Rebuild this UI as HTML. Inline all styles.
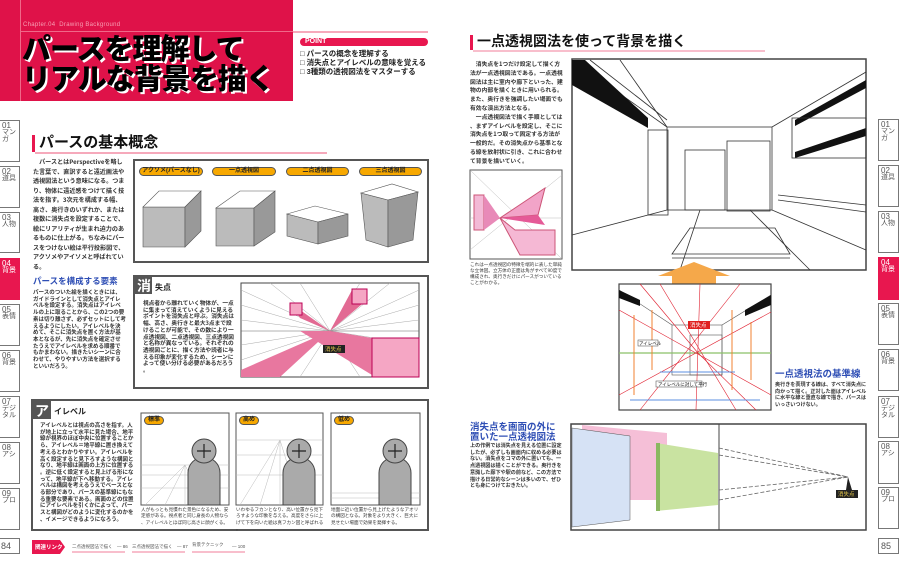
<!DOCTYPE html>
<html><head><meta charset="utf-8"><style>
*{margin:0;padding:0;box-sizing:border-box}
body{width:900px;height:575px;overflow:hidden;background:#fff;position:relative;font-family:"Liberation Sans","Noto Sans CJK JP",sans-serif;color:#222}
.a{position:absolute}
.p{position:absolute;font-size:6.1px;line-height:9.5px;font-weight:bold;color:#333;font-family:"Noto Sans CJK JP",sans-serif;word-break:break-all;line-break:anywhere}
.h{position:absolute;font-weight:bold;color:#111}
.tab{position:absolute;width:21px;border:1px solid #777;background:#fff;font-size:7px;color:#555;padding:1px 2px;line-height:7px}
.tab b{display:block;font-size:8px;font-weight:normal}
.tab.r{background:#e8174f;color:#fff;border-color:#e8174f}
.pill{position:absolute;height:9px;border:1px solid #555;border-radius:5px;background:#f7a800;font-size:6px;line-height:7px;text-align:center;font-weight:bold;color:#222}
.blue{position:absolute;color:#2f4fb5;font-weight:bold;font-family:"Noto Sans CJK JP",sans-serif}
</style></head><body>

<!-- header -->
<div class="a" style="left:0;top:0;width:293px;height:101px;background:#df1249"></div>
<div class="a" style="left:20px;top:0;width:1px;height:101px;background:#f06888"></div>
<div class="a" style="left:20px;top:31px;width:273px;height:1px;background:#f06888"></div>
<div class="a" style="left:23px;top:22px;font-size:6px;color:#f7a0b4;letter-spacing:.3px">Chapter.04&nbsp; Drawing Background</div>
<div class="h" style="left:22px;top:35px;font-size:29px;line-height:30px;letter-spacing:-1px;font-weight:900;color:#000;text-shadow:2px 2px 0 #fff">パースを理解して<br>リアルな背景を描く</div>
<div class="a" style="left:293px;top:31px;width:135px;height:2px;background:#f6a9bb"></div>
<div class="a" style="left:300px;top:38px;width:128px;height:8px;background:#e8174f;border-radius:4px;color:#fff;font-size:7px;line-height:8px;padding-left:5px;font-weight:bold">POINT</div>
<div class="a" style="left:300px;top:49px;font-size:7.5px;line-height:9px;color:#222;font-weight:bold">□ パースの概念を理解する<br>□ 消失点とアイレベルの意味を覚える<br>□ 3種類の透視図法をマスターする</div>

<!-- left tabs -->
<div class="tab" style="left:-1px;top:120px;height:42px"><b>01</b>マンガ</div>
<div class="tab" style="left:-1px;top:166px;height:42px"><b>02</b>道具</div>
<div class="tab" style="left:-1px;top:212px;height:41px"><b>03</b>人物</div>
<div class="tab r" style="left:-1px;top:258px;height:42px"><b>04</b>背景</div>
<div class="tab" style="left:-1px;top:304px;height:42px"><b>05</b>表情</div>
<div class="tab" style="left:-1px;top:350px;height:42px"><b>06</b>背景</div>
<div class="tab" style="left:-1px;top:396px;height:42px"><b>07</b>デジタル</div>
<div class="tab" style="left:-1px;top:442px;height:42px"><b>08</b>アシ</div>
<div class="tab" style="left:-1px;top:488px;height:42px"><b>09</b>プロ</div>
<div class="tab" style="left:-1px;top:538px;height:16px;font-size:9px;line-height:12px;border-left:none">84</div>

<!-- right tabs -->
<div class="tab" style="left:878px;top:119px;height:42px"><b>01</b>マンガ</div>
<div class="tab" style="left:878px;top:165px;height:42px"><b>02</b>道具</div>
<div class="tab" style="left:878px;top:211px;height:42px"><b>03</b>人物</div>
<div class="tab r" style="left:878px;top:257px;height:43px"><b>04</b>背景</div>
<div class="tab" style="left:878px;top:303px;height:42px"><b>05</b>表情</div>
<div class="tab" style="left:878px;top:349px;height:42px"><b>06</b>背景</div>
<div class="tab" style="left:878px;top:396px;height:42px"><b>07</b>デジタル</div>
<div class="tab" style="left:878px;top:441px;height:43px"><b>08</b>アシ</div>
<div class="tab" style="left:878px;top:487px;height:42px"><b>09</b>プロ</div>
<div class="tab" style="left:878px;top:538px;height:16px;font-size:9px;line-height:12px">85</div>

<!-- left section heading -->
<div class="a" style="left:32px;top:135px;width:3px;height:17px;background:#e8174f"></div>
<div class="h" style="left:39px;top:134px;font-size:15px;line-height:18px">パースの基本概念</div>
<div class="a" style="left:35px;top:152px;width:292px;height:2px;background:#f6a9bb"></div>
<div class="p" style="left:33px;top:157px;width:93px">　パースとはPerspectiveを略した言葉で、直訳すると遠近画法や透視図法という意味になる。つまり、物体に遠近感をつけて描く技法を指す。3次元を構成する幅、高さ、奥行きのいずれか、または複数に消失点を設定することで、絵にリアリティが生まれ迫力のあるものに仕上がる。ちなみにパースをつけない絵は平行投影図で、アクソメやアイソメと呼ばれている。</div>

<svg class="a" style="left:0;top:0" width="900" height="575">
<!-- box1 -->
<rect x="134" y="160" width="294" height="102" fill="#fff" stroke="#555" stroke-width="2"/>
<g stroke="#555" stroke-width=".6">
<polygon points="143,207 185,207 185,247 143,247" fill="#bbb"/><polygon points="143,207 159,191 201,191 185,207" fill="#fff"/><polygon points="185,207 201,191 201,231 185,247" fill="#999"/>
<polygon points="216,208 254,208 254,246 216,246" fill="#bbb"/><polygon points="216,208 240,191 275,191 254,208" fill="#fff"/><polygon points="254,208 275,191 275,232 254,246" fill="#999"/>
<polygon points="287,214 318,222 318,244 287,236" fill="#bbb"/><polygon points="287,214 315,206 348,214 318,222" fill="#fff"/><polygon points="318,222 348,214 348,236 318,244" fill="#999"/>
<polygon points="361,193 388,200 388,247 366,240" fill="#bbb"/><polygon points="361,193 392,184 418,192 388,200" fill="#fff"/><polygon points="388,200 418,192 413,240 388,247" fill="#999"/>
</g>
<!-- vanishing box -->
<rect x="134" y="276" width="294" height="112" fill="#fff" stroke="#555" stroke-width="2"/>
<rect x="135" y="277" width="17" height="17" fill="#555"/>
<text x="137" y="291" font-size="14" fill="#fff" font-weight="bold" font-family="Noto Sans CJK JP">消</text>
<text x="155" y="290" font-size="8" font-weight="bold" fill="#222" font-family="Liberation Sans,Noto Sans CJK JP">失点</text>
<rect x="241" y="283" width="178" height="94" fill="#fff" stroke="#444"/>
<g stroke="#aaa" stroke-width=".5">
<line x1="330" y1="331" x2="241" y2="290"/><line x1="330" y1="331" x2="241" y2="305"/><line x1="330" y1="331" x2="241" y2="320"/><line x1="330" y1="331" x2="241" y2="345"/><line x1="330" y1="331" x2="241" y2="360"/>
<line x1="330" y1="331" x2="419" y2="290"/><line x1="330" y1="331" x2="419" y2="305"/><line x1="330" y1="331" x2="419" y2="320"/><line x1="330" y1="331" x2="419" y2="345"/><line x1="330" y1="331" x2="419" y2="360"/>
<line x1="330" y1="331" x2="270" y2="283"/><line x1="330" y1="331" x2="300" y2="283"/><line x1="330" y1="331" x2="360" y2="283"/><line x1="330" y1="331" x2="390" y2="283"/>
<line x1="330" y1="331" x2="270" y2="377"/><line x1="330" y1="331" x2="300" y2="377"/><line x1="330" y1="331" x2="360" y2="377"/><line x1="330" y1="331" x2="390" y2="377"/>
<line x1="241" y1="331" x2="419" y2="331" stroke="#666"/>
</g>
<polygon points="290,303 300,318 330,331 300,310" fill="#e26a93"/>
<rect x="290" y="303" width="12" height="12" fill="#f5a6c4" stroke="#b05"/>
<polygon points="352,290 367,300 330,331" fill="#e26a93"/><rect x="352" y="289" width="15" height="15" fill="#f5a6c4" stroke="#b05"/>
<polygon points="330,331 372,338 372,375 300,331" fill="#e8779f"/><rect x="372" y="338" width="47" height="39" fill="#f5a6c4" stroke="#b05"/>
<polygon points="330,331 241,370 241,377 280,377" fill="#e8779f"/>
<rect x="323" y="345" width="22" height="8" fill="#222"/><text x="325" y="351" font-size="5.5" fill="#e6c84a">消失点</text>
<!-- eyelevel box -->
<rect x="32" y="400" width="396" height="130" fill="#fff" stroke="#555" stroke-width="2"/>
<rect x="33" y="401" width="18" height="18" fill="#555"/>
<text x="35" y="416" font-size="14" fill="#fff" font-weight="bold" font-family="Noto Sans CJK JP">ア</text>
<text x="54" y="414" font-size="8" font-weight="bold" fill="#222" font-family="Liberation Sans,Noto Sans CJK JP">イレベル</text>
<!-- panels -->
<g stroke="#555" fill="#fff">
<rect x="141" y="413" width="88" height="92"/><rect x="236" y="413" width="87" height="92"/><rect x="331" y="413" width="89" height="92"/>
</g>
<g stroke="#bbb" stroke-width=".5">
<line x1="141" y1="465" x2="229" y2="465"/><line x1="141" y1="475" x2="229" y2="475"/><line x1="141" y1="488" x2="229" y2="488"/>
<line x1="185" y1="465" x2="145" y2="505"/><line x1="185" y1="465" x2="165" y2="505"/><line x1="185" y1="465" x2="185" y2="505"/><line x1="185" y1="465" x2="205" y2="505"/>
<line x1="236" y1="440" x2="323" y2="440"/><line x1="236" y1="455" x2="323" y2="455"/><line x1="236" y1="475" x2="323" y2="475"/>
<line x1="280" y1="440" x2="240" y2="505"/><line x1="280" y1="440" x2="260" y2="505"/><line x1="280" y1="440" x2="280" y2="505"/><line x1="280" y1="440" x2="300" y2="505"/>
<line x1="331" y1="493" x2="420" y2="493"/><line x1="331" y1="498" x2="420" y2="498"/>
</g>
<g fill="#aaa" stroke="#444" stroke-width="1">
<path d="M188,505 V473 a16,16 0 0 1 32,0 V505 Z"/><circle cx="204" cy="451" r="12"/>
<path d="M283,505 V473 a16,16 0 0 1 32,0 V505 Z"/><circle cx="299" cy="451" r="12"/>
<path d="M379,505 V473 a16,16 0 0 1 32,0 V505 Z"/><circle cx="395" cy="451" r="12"/>
</g>
<g stroke="#222" stroke-width="1.2"><path d="M197,451h14M204,444v14M292,451h14M299,444v14M388,451h14M395,444v14"/></g>
<!-- footer -->
<polygon points="32,540 60,540 65,547 60,554 32,554" fill="#e8174f"/>
<text x="35" y="549" font-size="5.5" fill="#fff" font-weight="bold">関連リンク</text>
<g fill="#555" font-size="4.5"><text x="72" y="548">二点透視図法で描く　— 86</text><text x="132" y="548">三点透視図法で描く　— 87</text><text x="192" y="546">背景テクニック</text><text x="232" y="548">— 100</text></g>
<g stroke="#f6a9bb" stroke-width="1.5"><line x1="72" y1="552" x2="125" y2="552"/><line x1="132" y1="552" x2="185" y2="552"/><line x1="192" y1="552" x2="245" y2="552"/></g>

<!-- right heading -->
<rect x="470" y="35" width="3" height="15" fill="#e8174f"/>
<line x1="473" y1="51" x2="765" y2="51" stroke="#f6a9bb" stroke-width="1.5"/>
<!-- small diagram -->
<rect x="470" y="170" width="92" height="89" fill="#fff" stroke="#555"/>
<g stroke="#bbb" stroke-width=".5"><line x1="470" y1="170" x2="562" y2="259"/><line x1="562" y1="175" x2="470" y2="250"/><line x1="470" y1="218" x2="562" y2="218"/></g>
<polygon points="474,195 484,195 484,230 474,230" fill="#f3b9d6" stroke="#c57"/><polygon points="484,195 500,218 484,230" fill="#e88ab8"/>
<polygon points="500,218 545,188 538,215" fill="#f2a4c8" stroke="#c57"/><polygon points="500,218 538,215 545,225" fill="#e55a97"/>
<polygon points="500,218 515,230 555,230 555,255 520,255" fill="#f5b8d4" stroke="#c57"/>
<!-- room -->
<rect x="572" y="59" width="294" height="211" fill="#fff" stroke="#444" stroke-width="1.5"/>
<g stroke="#333" fill="none" stroke-width=".8">
<rect x="667" y="127" width="105" height="83"/>
<line x1="572" y1="60" x2="667" y2="127"/><line x1="866" y1="72" x2="772" y2="127"/>
<line x1="572" y1="235" x2="667" y2="210"/><line x1="866" y1="250" x2="772" y2="210"/>
<line x1="590" y1="60" x2="667" y2="120"/><line x1="620" y1="60" x2="667" y2="127"/>
<rect x="685" y="150" width="40" height="60"/><rect x="727" y="141" width="43" height="70"/>
<rect x="648" y="130" width="20" height="85"/>
<line x1="778" y1="195" x2="866" y2="205"/><line x1="778" y1="200" x2="866" y2="212"/>
<polygon points="690,228 775,228 790,254 672,254"/><line x1="672" y1="258" x2="790" y2="258"/>
<line x1="700" y1="210" x2="680" y2="270"/><line x1="750" y1="210" x2="810" y2="270"/>
</g>
<polygon points="572,60 585,60 648,118 648,128 572,85" fill="#111"/>
<polygon points="795,120 866,80 866,88 795,126" fill="#111"/><polygon points="795,152 866,128 866,136 795,158" fill="#111"/>
<rect x="792" y="118" width="74" height="40" fill="none" stroke="#333" stroke-width=".8"/>
<!-- arrow -->
<polygon points="658,276 694,262 730,276 716,276 716,284 672,284 672,276" fill="#f5a84a"/>
<!-- middle image -->
<rect x="619" y="284" width="152" height="126" fill="#fff" stroke="#444" stroke-width="1.2"/>
<g stroke="#555" stroke-width=".6" fill="none"><rect x="672" y="325" width="50" height="50"/><rect x="690" y="335" width="32" height="40"/><line x1="619" y1="290" x2="672" y2="325"/><line x1="771" y1="295" x2="722" y2="325"/></g>
<polygon points="619,290 640,300 640,306 619,298" fill="#111"/><polygon points="771,295 745,310 745,316 771,305" fill="#111"/>
<line x1="619" y1="353" x2="771" y2="353" stroke="#8bc068" stroke-width="1.2"/>
<g stroke="#e02030" stroke-width=".6"><line x1="640" y1="284" x2="698" y2="353"/><line x1="698" y1="353" x2="756" y2="410"/><line x1="619" y1="395" x2="771" y2="312"/><line x1="619" y1="310" x2="771" y2="395"/><line x1="660" y1="284" x2="736" y2="410"/><line x1="740" y1="284" x2="640" y2="410"/><line x1="700" y1="284" x2="696" y2="410"/></g>
<g stroke="#f08030" stroke-width="1"><line x1="634" y1="315" x2="634" y2="395"/><line x1="652" y1="310" x2="652" y2="370"/><line x1="732" y1="310" x2="732" y2="390"/><line x1="751" y1="322" x2="751" y2="380"/></g>
<g stroke="#5b8fe0" stroke-width="1"><line x1="660" y1="372" x2="735" y2="372"/><line x1="630" y1="400" x2="760" y2="400"/></g>
<rect x="688" y="321" width="22" height="8" fill="#e02020"/><text x="690" y="327" font-size="5.5" fill="#fff">消失点</text>
<rect x="638" y="340" width="20" height="6" fill="#fff" stroke="#444" stroke-width=".5"/><text x="639" y="345" font-size="4.5">アイレベル</text>
<rect x="656" y="381" width="46" height="6" fill="#fff" stroke="#444" stroke-width=".5"/><text x="658" y="386" font-size="4.5">アイレベルに対して平行</text>
<!-- bottom box -->
<rect x="571" y="424" width="295" height="106" fill="#fff" stroke="#444" stroke-width="1.5"/>
<line x1="719" y1="424" x2="719" y2="530" stroke="#444" stroke-width="1"/>
<polygon points="582,425 667,433 667,500 582,500" fill="#f5bfd7"/>
<polygon points="572,428 630,436 630,520 572,527" fill="#d6e2f5" stroke="#555" stroke-width=".5"/>
<polygon points="656,443 718,453 718,505 656,511" fill="#c9e3a1"/><rect x="656" y="443" width="4" height="68" fill="#8ab860"/>
<g stroke="#666" stroke-dasharray="4,2" stroke-width=".8"><line x1="719" y1="448" x2="848" y2="477"/><line x1="719" y1="455" x2="848" y2="477"/><line x1="719" y1="490" x2="848" y2="477"/><line x1="719" y1="500" x2="848" y2="477"/></g>
<polygon points="848,477 846,490 852,490" fill="#222"/>
<rect x="836" y="490" width="22" height="8" fill="#222"/><text x="838" y="496" font-size="5.5" fill="#e6c84a">消失点</text>
</svg>

<div class="pill" style="left:139px;top:167px;width:64px">アクソメ(パースなし)</div>
<div class="pill" style="left:212px;top:167px;width:64px">一点透視図</div>
<div class="pill" style="left:286px;top:167px;width:63px">二点透視図</div>
<div class="pill" style="left:359px;top:167px;width:63px">三点透視図</div>
<div class="pill" style="left:144px;top:416px;width:20px">標準</div>
<div class="pill" style="left:239px;top:416px;width:20px">高め</div>
<div class="pill" style="left:334px;top:416px;width:20px">低め</div>

<div class="blue" style="left:33px;top:276px;font-size:8.5px;line-height:11px">パースを構成する要素</div>
<div class="p" style="left:33px;top:289px;width:93px;font-size:5.5px;line-height:6.7px">パースのついた絵を描くときには、ガイドラインとして消失点とアイレベルを設定する。消失点はアイレベルの上に取ることから、この2つの要素は切り離さず、必ずセットにして考えるようにしたい。アイレベルを決めて、そこに消失点を置く方法が基本となるが、先に消失点を確定させたうえでアイレベルを求める順番でもかまわない。描きたいシーンに合わせて、やりやすい方法を選択するといいだろう。</div>
<div class="p" style="left:143px;top:300px;width:93px;font-size:5.7px;line-height:6.7px">視点者から離れていく物体が、一点に集まって消えていくように見えるポイントを消失点と呼ぶ。消失点は幅、高さ、奥行きと最大3点まで設けることが可能で、その数により一点透視図、二点透視図、三点透視図と名称が異なっている。それぞれの透視図ごとに、描く方法や読者に与える印象が変化するため、シーンによって使い分ける必要があるだろう。</div>
<div class="p" style="left:40px;top:422px;width:94px;font-size:5.5px;line-height:6.7px">アイレベルとは視点の高さを指す。人が地上に立って水平に見た場合、地平線が視界のほぼ中央に位置することから、アイレベル＝地平線に置き換えて考えるとわかりやすい。アイレベルを高く設定すると見下ろすような構図となり、地平線は画面の上方に位置する。逆に低く設定すると見上げる形になって、地平線が下へ移動する。アイレベルは構図を考えるうえでベースとなる部分であり、パースの基準線にもなる重要な要素である。画面のどの位置にアイレベルを引くかによって、パースと構図がどのように変化するのかを、イメージできるようになろう。</div>
<div class="p" style="left:141px;top:507px;width:89px;font-size:4.6px;line-height:6.3px;font-weight:normal">人がもっとも見慣れた景色になるため、安定感がある。視点者と同じ身長の人物なら、アイレベルとほぼ同じ高さに顔がくる。</div>
<div class="p" style="left:236px;top:507px;width:88px;font-size:4.6px;line-height:6.3px;font-weight:normal">いわゆるフカンとなり、高い位置から見下ろすような印象を与える。高度をさらに上げて下を向いた絵は真フカン図と呼ばれる。</div>
<div class="p" style="left:331px;top:507px;width:90px;font-size:4.6px;line-height:6.3px;font-weight:normal">地面に近い位置から見上げたようなアオリの構図となる。対象をより大きく、巨大に見せたい場面で効果を発揮する。</div>

<div class="h" style="left:477px;top:33px;font-size:14px;line-height:17px">一点透視図法を使って背景を描く</div>
<div class="p" style="left:470px;top:60px;width:93px;line-height:8.8px;font-size:5.8px">　消失点を1つだけ設定して描く方法が一点透視図法である。一点透視図法は主に室内や廊下といった、建物の内部を描くときに用いられる。また、奥行きを強調したい場面でも有効な演出方法となる。<br>　一点透視図法で描く手順としては、まずアイレベルを設定し、そこに消失点を1つ取って固定する方法が一般的だ。その消失点から基準となる線を放射状に引き、これに合わせて背景を描いていく。</div>
<div class="p" style="left:470px;top:262px;width:93px;font-size:4.6px;line-height:6px;font-weight:normal">これは一点透視図の特徴を端的に表した単純な立体図。立方体の正面は角がすべて90度で構成され、奥行きだけにパースがついていることがわかる。</div>
<div class="blue" style="left:775px;top:366px;font-size:9.5px">一点透視法の基準線</div>
<div class="p" style="left:775px;top:382px;width:92px;font-size:5.1px;line-height:6.7px">奥行きを表現する線は、すべて消失点に向かって描く。正対した面はアイレベルに水平な線と垂直な線で描き、パースはいっさいつけない。</div>
<div class="blue" style="left:470px;top:421px;font-size:9.5px;line-height:10px">消失点を画面の外に<br>置いた一点透視図法</div>
<div class="p" style="left:470px;top:443px;width:93px;font-size:5.1px;line-height:6.7px">上の作例では消失点を見える位置に設定したが、必ずしも画面内に収める必要はない。消失点をコマの外に置いても、一点透視図は描くことができる。奥行きを意識した廊下や駅の前など、この方法で描ける日常的なシーンは多いので、ぜひとも身につけておきたい。</div>
</body></html>
